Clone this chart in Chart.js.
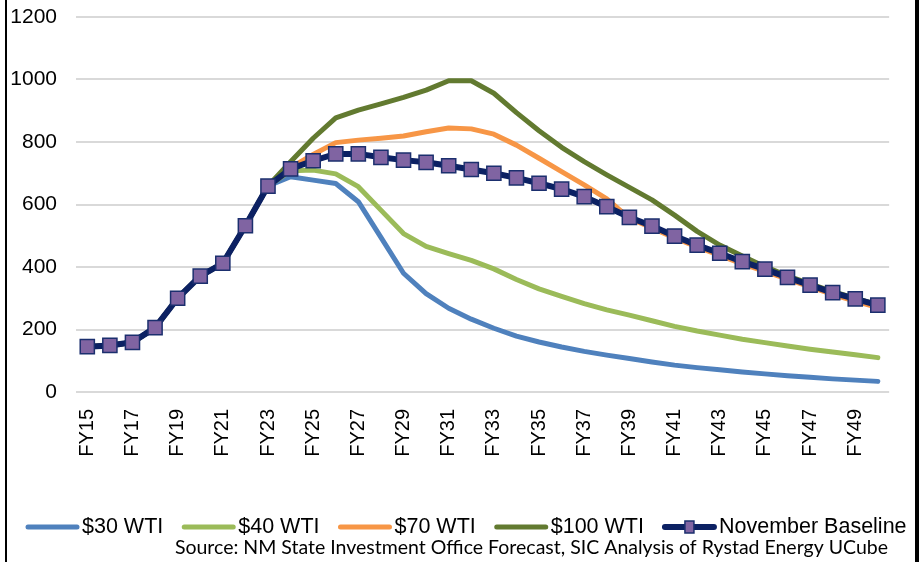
<!DOCTYPE html>
<html>
<head>
<meta charset="utf-8">
<script src="https://cdn.jsdelivr.net/npm/chart.js@4.4.1/dist/chart.umd.min.js"></script>
<style>
  html, body { margin: 0; padding: 0; background: #ffffff; }
  #wrap { position: relative; width: 919px; height: 562px; }
  canvas { display: block; }
</style>
</head>
<body>
<div id="wrap"><canvas id="c" width="919" height="562"></canvas></div>
<script>
// ---- Data ----
const categories = ['FY15','FY16','FY17','FY18','FY19','FY20','FY21','FY22','FY23','FY24','FY25','FY26',
  'FY27','FY28','FY29','FY30','FY31','FY32','FY33','FY34','FY35','FY36','FY37','FY38',
  'FY39','FY40','FY41','FY42','FY43','FY44','FY45','FY46','FY47','FY48','FY49','FY50'];

const seriesNames = ['$30 WTI', '$40 WTI', '$70 WTI', '$100 WTI', 'November Baseline'];

const wti30 = [145,149,159,206,300,371,412,532,659,
  689,678,667,609,495,380,315,268,233,204,179,160,144,130,118,107,96,86,78,71,64,58,52,47,42,38,34];
const wti40 = [145,149,159,206,300,371,412,532,659,
  708,710,698,657,582,507,466,443,421,394,360,330,306,283,263,246,228,210,195,182,169,158,147,137,128,119,110];
const wti70 = [145,149,159,206,300,371,412,532,659,
  718,760,798,806,812,819,833,845,842,825,790,748,705,663,618,556,525,493,464,437,410,386,361,336,312,291,270];
const wti100 = [145,149,159,206,300,371,412,532,659,
  737,812,877,902,922,943,966,996,996,956,894,836,783,737,695,655,615,566,514,470,435,401,372,346,321,300,279];
const baseline = [145,149,159,206,300,371,412,532,659,
  714,740,762,762,751,742,735,724,712,700,685,668,649,625,593,559,531,499,470,444,417,393,367,342,318,298,278];

const yTicks = [0, 200, 400, 600, 800, 1000, 1200];
const sourceText = 'Source: NM State Investment Office Forecast, SIC Analysis of Rystad Energy UCube';

// ---- Styles ----
const colors = ['#4f81bd', '#9bbb59', '#f79646', '#627a30', '#0c2163'];
const FONT = '"Liberation Sans", Arial, sans-serif';

function lineDs(label, data, color, order) {
  return {
    label, data, borderColor: color, backgroundColor: color,
    borderWidth: 5, pointRadius: 0, pointHoverRadius: 0, tension: 0,
    borderCapStyle: 'round', borderJoinStyle: 'round', order, fill: false
  };
}

const datasets = [
  lineDs(seriesNames[0], wti30, colors[0], 4),
  lineDs(seriesNames[1], wti40, colors[1], 3),
  lineDs(seriesNames[2], wti70, colors[2], 2),
  lineDs(seriesNames[3], wti100, colors[3], 1),
  {
    label: seriesNames[4], data: baseline, borderColor: colors[4], backgroundColor: '#8064a2',
    borderWidth: 6, tension: 0, order: 0, fill: false,
    borderCapStyle: 'round', borderJoinStyle: 'round',
    pointStyle: 'rect', pointRadius: 10, pointHoverRadius: 10,
    pointBackgroundColor: '#8064a2', pointBorderColor: '#1b2f6e', pointBorderWidth: 1.5
  }
];

// Custom legend + source + frame
const extras = {
  id: 'extras',
  afterDraw(chart) {
    const ctx = chart.ctx;
    ctx.save();
    // legend
    ctx.font = '21.5px ' + FONT;
    ctx.textBaseline = 'middle';
    ctx.textAlign = 'left';
    const y = 527;
    let x = 26;
    chart.data.datasets.forEach(ds => {
      ctx.strokeStyle = ds.borderColor;
      ctx.lineWidth = ds.borderWidth;
      ctx.lineCap = 'round';
      ctx.beginPath();
      ctx.moveTo(x + 2, y);
      ctx.lineTo(x + 51, y);
      ctx.stroke();
      if (ds.pointRadius) {
        ctx.fillStyle = ds.pointBackgroundColor;
        ctx.strokeStyle = ds.pointBorderColor;
        ctx.lineWidth = 1.5;
        ctx.fillRect(x + 22, y - 6, 9, 12);
        ctx.strokeRect(x + 22, y - 6, 9, 12);
      }
      ctx.fillStyle = '#000';
      ctx.fillText(ds.label, x + 56, y);
      x += 56 + ctx.measureText(ds.label).width + 19;
    });
    // source
    let fs = 17;
    ctx.font = fs + 'px Lato, "Open Sans", sans-serif';
    const w = ctx.measureText(sourceText).width;
    fs = fs * 713 / w;
    ctx.font = fs.toFixed(2) + 'px Lato, "Open Sans", sans-serif';
    ctx.textAlign = 'right';
    ctx.fillStyle = '#000';
    ctx.fillText(sourceText, 888, 548);
    // frame
    ctx.fillStyle = '#000';
    ctx.fillRect(5, 0, 2, 562);
    ctx.fillRect(915, 0, 4, 562);
    ctx.restore();
  }
};

new Chart(document.getElementById('c'), {
  type: 'line',
  data: { labels: categories, datasets },
  options: {
    responsive: false,
    animation: false,
    events: [],
    layout: { padding: { top: 17, right: 4, bottom: 0, left: 0 } },
    plugins: { legend: { display: false }, tooltip: { enabled: false }, title: { display: false } },
    scales: {
      x: {
        offset: true,
        grid: { display: false, drawTicks: false },
        border: { display: false },
        ticks: {
          autoSkip: false, maxRotation: 90, minRotation: 90, padding: 17,
          color: '#000', font: { family: FONT, size: 20 },
          callback: function (v, i) { return i % 2 === 0 ? categories[i] : ''; }
        },
        afterFit(scale) { scale.height = 170; }
      },
      y: {
        min: yTicks[0], max: yTicks[yTicks.length - 1],
        afterBuildTicks(scale) { scale.ticks = yTicks.map(v => ({ value: v })); },
        grid: { color: '#d9d9d9', lineWidth: 2, drawTicks: false },
        border: { display: false },
        ticks: {
          padding: 19, color: '#000', font: { family: FONT, size: 21 },
          callback: function (v) { return String(v); }
        },
        afterFit(scale) { scale.width = 76; scale.paddingTop = 0; scale.paddingBottom = 0; }
      }
    }
  },
  plugins: [extras]
});
</script>
</body>
</html>
